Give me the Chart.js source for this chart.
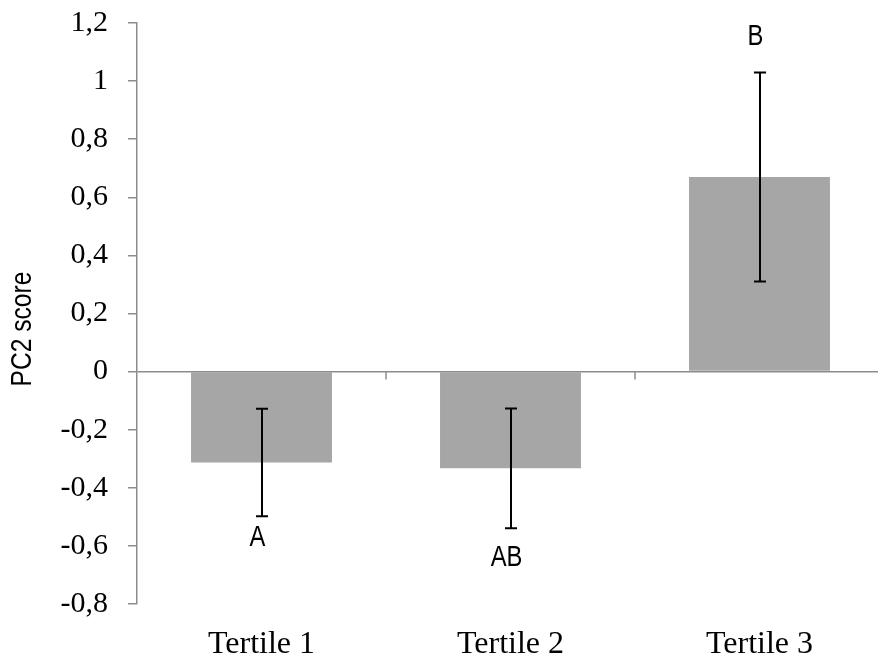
<!DOCTYPE html>
<html>
<head>
<meta charset="utf-8">
<script src="https://cdn.jsdelivr.net/npm/chart.js@4.4.1/dist/chart.umd.min.js"></script>
<style>
  html, body { margin: 0; padding: 0; background: #fff; overflow: hidden; }
  #wrap { width: 884px; height: 659px; }
</style>
</head>
<body>
<div id="wrap"><canvas id="c" width="884" height="659"></canvas></div>
<script>
// Mean PC2 score per tertile, with error bar half-lengths
const categories = ['Tertile 1', 'Tertile 2', 'Tertile 3'];
const meanScores = [-0.313, -0.333, 0.670];
const errorHalf = [0.185, 0.206, 0.360];

// Group letters shown next to each bar, and the value level they sit at
const groupLetters = ['A', 'AB', 'B'];
const letterLevels = [-0.572, -0.641, 1.153];

// Y axis ticks (comma decimal labels)
const yTickValues = [-0.8, -0.6, -0.4, -0.2, 0, 0.2, 0.4, 0.6, 0.8, 1, 1.2];
const yTickLabels = ['-0,8', '-0,6', '-0,4', '-0,2', '0', '0,2', '0,4', '0,6', '0,8', '1', '1,2'];

const AXIS_GREY = '#8c8c8c';
const SERIF = "'Liberation Serif', 'Times New Roman', serif";
const SANS = "'Liberation Sans', Arial, sans-serif";
const NARROW_SCALE = 0.82; // condensed look for the sans labels

// Error bars with caps, drawn after the bars
const errorBarPlugin = {
  id: 'errorBars',
  afterDatasetsDraw(chart) {
    const { ctx } = chart;
    const y = chart.scales.y;
    const meta = chart.getDatasetMeta(0);
    ctx.save();
    ctx.strokeStyle = '#000';
    ctx.lineWidth = 2;
    meta.data.forEach((bar, i) => {
      const top = y.getPixelForValue(meanScores[i] + errorHalf[i]);
      const bot = y.getPixelForValue(meanScores[i] - errorHalf[i]);
      const x = Math.round(bar.x);
      ctx.beginPath();
      ctx.moveTo(x, top); ctx.lineTo(x, bot);
      ctx.moveTo(x - 6, top); ctx.lineTo(x + 6, top);
      ctx.moveTo(x - 6, bot); ctx.lineTo(x + 6, bot);
      ctx.stroke();
    });
    ctx.restore();
  }
};

// Tick marks on the zero line between categories, group letters, axis title
const decorPlugin = {
  id: 'decor',
  afterDraw(chart) {
    const { ctx } = chart;
    const x = chart.scales.x, y = chart.scales.y;
    const y0 = y.getPixelForValue(0);
    ctx.save();
    ctx.strokeStyle = AXIS_GREY;
    ctx.lineWidth = 1.5;
    for (let i = 1; i < categories.length; i++) {
      const bx = (x.getPixelForTick(i - 1) + x.getPixelForTick(i)) / 2;
      ctx.beginPath();
      ctx.moveTo(bx, y0); ctx.lineTo(bx, y0 + 8);
      ctx.stroke();
    }
    ctx.restore();

    // group letters
    const meta = chart.getDatasetMeta(0);
    meta.data.forEach((bar, i) => {
      ctx.save();
      ctx.translate(bar.x - 4, y.getPixelForValue(letterLevels[i]));
      ctx.scale(NARROW_SCALE, 1);
      ctx.fillStyle = '#000';
      ctx.font = '29px ' + SANS;
      ctx.textAlign = 'center';
      ctx.textBaseline = 'middle';
      ctx.fillText(groupLetters[i], 0, 0);
      ctx.restore();
    });

    // y axis title
    ctx.save();
    ctx.translate(23, 329);
    ctx.rotate(-Math.PI / 2);
    ctx.scale(NARROW_SCALE, 1);
    ctx.fillStyle = '#000';
    ctx.font = '30px ' + SANS;
    ctx.textAlign = 'center';
    ctx.textBaseline = 'middle';
    ctx.fillText('PC2 score', 0, 0);
    ctx.restore();
  }
};

new Chart(document.getElementById('c'), {
  type: 'bar',
  data: {
    labels: categories,
    datasets: [{
      data: meanScores,
      backgroundColor: '#a6a6a6',
      borderWidth: 0,
      categoryPercentage: 1,
      barPercentage: 0.566
    }]
  },
  options: {
    responsive: false,
    animation: false,
    devicePixelRatio: 1,
    layout: { padding: { top: 23, left: 0, right: 0, bottom: 0 } },
    plugins: { legend: { display: false }, tooltip: { enabled: false } },
    scales: {
      x: {
        type: 'category',
        position: 'bottom',
        grid: { display: false },
        border: { display: false },
        ticks: { color: '#000', font: { family: SERIF, size: 32 }, padding: 13, maxRotation: 0 },
        afterFit(s) { s.height = 55; s.paddingLeft = 0; s.paddingRight = 0; }
      },
      y: {
        min: -0.8,
        max: 1.2,
        afterBuildTicks(s) { s.ticks = yTickValues.map(v => ({ value: v })); },
        afterFit(s) { s.width = 137; s.paddingTop = 0; s.paddingBottom = 0; },
        grid: {
          drawOnChartArea: true,
          drawTicks: true,
          tickLength: 9,
          lineWidth: 1.5,
          color: c => (c.tick && c.tick.value === 0 ? AXIS_GREY : 'rgba(0,0,0,0)'),
          tickColor: AXIS_GREY
        },
        border: { display: true, color: AXIS_GREY, width: 1.5 },
        ticks: {
          color: '#000',
          font: { family: SERIF, size: 30 },
          padding: 20,
          callback: (v, i) => yTickLabels[i]
        }
      }
    }
  },
  plugins: [errorBarPlugin, decorPlugin]
});
</script>
</body>
</html>
